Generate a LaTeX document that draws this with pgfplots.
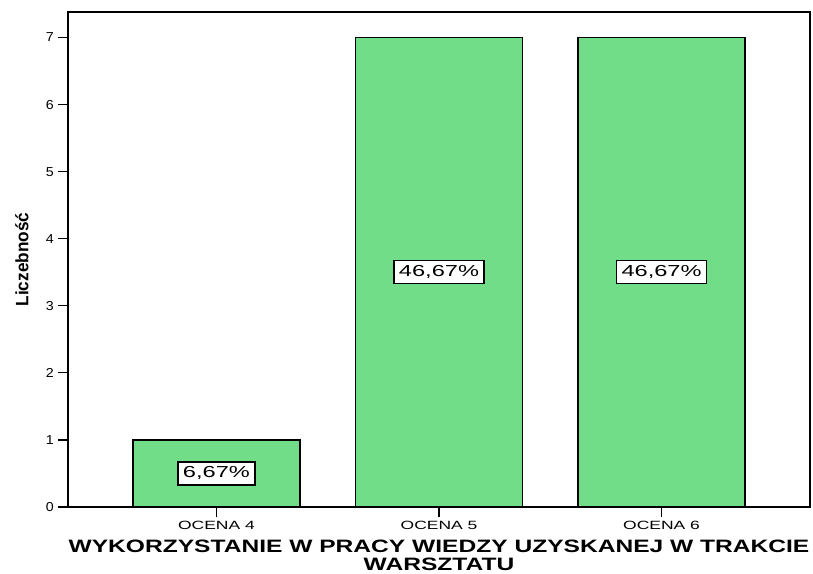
\documentclass[border=0pt]{standalone}
\usepackage{fontspec}
\setmainfont{Liberation Sans}
\usepackage{graphicx}
\usepackage{pgfplots}
\pgfplotsset{compat=1.18}
\definecolor{barg}{RGB}{114,221,136}
\begin{document}
\begin{tikzpicture}
\begin{axis}[
  scale only axis, width=742bp, height=495bp,
  xmin=-0.667, xmax=2.667, ymin=0, ymax=7.38,
  axis line style={line width=1.6bp, black},
  xtick={0,1,2},
  xticklabels={\scalebox{1.46}[1]{OCENA 4},\scalebox{1.46}[1]{OCENA 5},\scalebox{1.46}[1]{OCENA 6}},
  ytick={0,1,2,3,4,5,6,7},
  yticklabels={\scalebox{1.1}[1]{0},\scalebox{1.1}[1]{1},\scalebox{1.1}[1]{2},\scalebox{1.1}[1]{3},\scalebox{1.1}[1]{4},\scalebox{1.1}[1]{5},\scalebox{1.1}[1]{6},\scalebox{1.1}[1]{7}},
  xtick pos=bottom, ytick pos=left,
  tick align=outside, major tick length=10bp,
  tick style={line width=1.2bp, black},
  xticklabel style={font=\fontsize{12}{14}\selectfont, inner sep=1bp, yshift=-3bp},
  yticklabel style={font=\fontsize{13}{14}\selectfont, inner sep=1bp, xshift=-3bp},
  xlabel={\scalebox{1.37}[1]{WYKORZYSTANIE W PRACY WIEDZY UZYSKANEJ W TRAKCIE}\\\scalebox{1.37}[1]{WARSZTATU}},
  xlabel style={font=\fontsize{18}{17.5}\selectfont\bfseries, align=center, inner sep=0pt,
    at={(axis description cs:0.5,-0.067)}, anchor=north},
  ylabel={\scalebox{0.96}[1]{Liczebność}},
  ylabel style={font=\fontsize{18}{18}\selectfont\bfseries, inner sep=0pt,
    at={(axis description cs:-0.062,0.5)}, anchor=center},
]
\addplot[ybar, bar width=0.75, fill=barg, draw=black, line width=1.4bp]
  coordinates {(0,1) (1,7) (2,7)};
\addplot[draw=none, mark=none, point meta=explicit symbolic,
  nodes near coords={\scalebox{1.48}[1]{\pgfplotspointmeta}},
  nodes near coords style={anchor=center, fill=white, draw=black, line width=1.3bp,
    font=\fontsize{16}{18}\selectfont, text height=12bp, text depth=3.5bp,
    inner xsep=5bp, inner ysep=3.8bp}]
  coordinates {(0,0.5) [{6,67\%}] (1,3.5) [{46,67\%}] (2,3.5) [{46,67\%}]};
\end{axis}
\pgfresetboundingbox
\path ([shift={(-68bp,-67bp)}]current axis.south west) rectangle ([shift={(3bp,12bp)}]current axis.north east);
\end{tikzpicture}
\end{document}
